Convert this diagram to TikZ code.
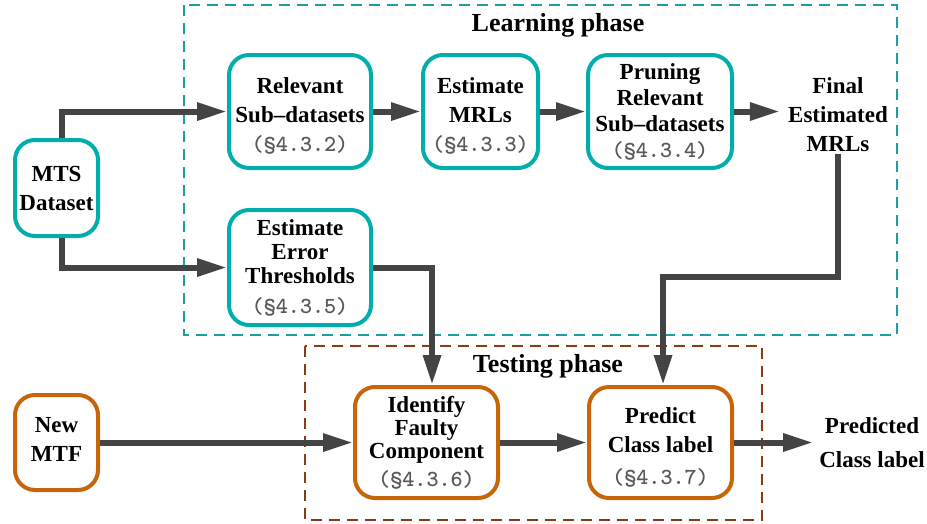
\documentclass[tikz,border=0pt]{standalone}
\usepackage{fontspec}
\setmainfont{Liberation Serif}
\usetikzlibrary{arrows.meta}
\definecolor{tealbox}{HTML}{00AEAE}
\definecolor{tealdash}{HTML}{1A9E9E}
\definecolor{orangebox}{HTML}{C86508}
\definecolor{browndash}{HTML}{8E3A12}
\definecolor{arrgray}{HTML}{444444}
\definecolor{refgray}{HTML}{5A5A5A}
\newcommand{\secref}[1]{{\ttfamily\color{refgray}(\S#1)}}
\newcommand{\upstrut}[1]{\rule{0pt}{#1}}
\tikzset{
  box/.style={draw, line width=4pt, rounded corners=20pt, fill=white, align=center,
    inner sep=0pt, font=\fontsize{23}{29}\selectfont\bfseries},
  learnbox/.style={box, draw=tealbox},
  testbox/.style={box, draw=orangebox},
  plain/.style={align=center, inner sep=2pt, font=\fontsize{23}{29}\selectfont\bfseries},
  arr/.style={draw=arrgray, line width=6pt, -{Triangle[length=30pt,width=17pt]}},
  phase/.style={font=\fontsize{26}{30}\selectfont\bfseries},
  dashbox/.style={line width=1.8pt, dash pattern=on 11pt off 7pt}
}
\begin{document}
\begin{tikzpicture}[x=1pt,y=-1pt]
\useasboundingbox (0,0) rectangle (927,523);
% phase frames
\draw[dashbox, draw=tealdash] (184,5) rectangle (897,335);
\draw[dashbox, draw=browndash] (305,346) rectangle (762,520);
\node[phase] (learn) at (558,25) {Learning phase};
\node[phase] (test) at (548,366) {Testing phase};
% learning nodes
\node[learnbox, minimum width=83pt, minimum height=96pt] (mts) at (56.5,188)
  {MTS\\Dataset};
\node[learnbox, minimum width=142pt, minimum height=113pt] (rel) at (300,111.5)
  {\upstrut{24pt}Relevant\\Sub\textendash datasets\\\secref{4.3.2}};
\node[learnbox, minimum width=115pt, minimum height=113pt] (mrl) at (480.5,111.5)
  {\upstrut{24pt}Estimate\\MRLs\\\secref{4.3.3}};
\node[learnbox, minimum width=144pt, minimum height=113pt, font=\fontsize{23}{26}\selectfont\bfseries] (prune) at (660,111.5)
  {Pruning\\Relevant\\Sub\textendash datasets\\\secref{4.3.4}};
\node[plain] (final) at (838,115) {Final\\Estimated\\MRLs};
\node[learnbox, minimum width=142pt, minimum height=115pt, font=\fontsize{23}{24}\selectfont\bfseries] (err) at (300,267.5)
  {Estimate\\Error\\Thresholds\\[6pt]\secref{4.3.5}};
% testing nodes
\node[testbox, minimum width=83pt, minimum height=95pt] (mtf) at (56.5,442.5)
  {New\\MTF\rule[-6pt]{0pt}{6pt}};
\node[testbox, minimum width=143pt, minimum height=111pt, font=\fontsize{23}{23}\selectfont\bfseries] (ident) at (426.5,442.5)
  {Identify\\Faulty\\Component\\[5pt]\secref{4.3.6}};
\node[testbox, minimum width=143pt, minimum height=111pt] (pred) at (660.5,442.5)
  {\upstrut{26pt}Predict\\Class label\\[3pt]\secref{4.3.7}};
\node[plain, font=\fontsize{23}{34}\selectfont\bfseries] (out) at (872,443) {Predicted\\Class label};
% connectors
\coordinate (turn) at (663,277);
\draw[arr] ([xshift=5.5pt]mts.north) |- (rel.west);
\draw[arr] ([xshift=5.5pt]mts.south) |- (err.west);
\draw[arr] (rel.east) -- (mrl.west);
\draw[arr] (mrl.east) -- (prune.west);
\draw[arr] (prune.east) -- ([xshift=-6pt]prune.east -| final.west);
\draw[arr] (final.south) |- (turn) -- (turn |- pred.north);
\draw[arr] (err.east) -| ([xshift=5.5pt]ident.north);
\draw[arr] (mtf.east) -- (ident.west);
\draw[arr] (ident.east) -- (pred.west);
\draw[arr] (pred.east) -- ([xshift=-4pt]pred.east -| out.west);
\end{tikzpicture}
\end{document}
